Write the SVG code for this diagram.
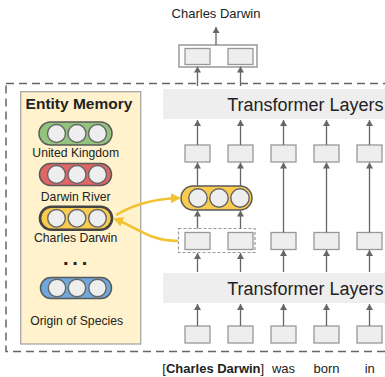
<svg xmlns="http://www.w3.org/2000/svg" width="385" height="377" viewBox="0 0 385 377">
<defs>
<style>
.t{font-family:"Liberation Sans",Arial,sans-serif;fill:#222}
.box{fill:#eeeeee;stroke:#999;stroke-width:1.3}
.band{fill:#eeeeee}
.arr{stroke:#666;stroke-width:1.3;fill:none;marker-end:url(#ah)}
.yarr{stroke:#f1c232;stroke-width:2.6;fill:none;marker-end:url(#yah)}
.pill{stroke:#595959;stroke-width:1.5}
.c{fill:#eeeeee;stroke:#666;stroke-width:1.4}
</style>
<marker id="ah" viewBox="0 0 6 7" refX="6" refY="3.5" markerWidth="6" markerHeight="7" markerUnits="userSpaceOnUse" orient="auto">
<path d="M0,0 L6,3.5 L0,7 Z" fill="#666"/>
</marker>
<marker id="yah" viewBox="0 0 10 10" refX="8" refY="5" markerWidth="10" markerHeight="10" markerUnits="userSpaceOnUse" orient="auto">
<path d="M0,0 L10,5 L0,10 Z" fill="#f1c232"/>
</marker>
</defs>
<rect width="385" height="377" fill="#ffffff"/>

<g id="outer-frame">
<rect x="6" y="83.5" width="400" height="268" fill="none" stroke="#666" stroke-width="1.5" stroke-dasharray="8 5"/>
</g>

<g id="title">
<text class="t" x="216" y="18" font-size="13" text-anchor="middle">Charles Darwin</text>
</g>

<g id="output-box">
<rect x="179" y="45" width="78" height="22" fill="#fff" stroke="#999" stroke-width="1.5"/>
<rect class="box" x="185" y="48.5" width="25" height="16"/>
<rect class="box" x="228" y="48.5" width="25" height="16"/>
</g>

<g id="transformer-top">
<rect class="band" x="163" y="89" width="230" height="30"/>
<text class="t" x="383.5" y="111" font-size="18" text-anchor="end">Transformer Layers</text>
</g>

<g id="transformer-bottom">
<rect class="band" x="163" y="273" width="230" height="30"/>
<text class="t" x="383.5" y="295" font-size="18" text-anchor="end">Transformer Layers</text>
</g>

<g id="entity-memory">
<rect x="20.7" y="91.7" width="120" height="252.3" fill="#fff2cc" stroke="#a6a6a6" stroke-width="1.3"/>
<text class="t" x="79" y="109" font-size="15.5" font-weight="bold" text-anchor="middle">Entity Memory</text>
</g>

<g id="entity-united-kingdom">
<rect class="pill" x="39" y="122" width="73" height="23" rx="11.5" fill="#93c47d"/>
<circle class="c" cx="56.5" cy="133.5" r="9"/>
<circle class="c" cx="77" cy="133.5" r="9"/>
<circle class="c" cx="97.5" cy="133.5" r="9"/>
<text class="t" x="75.7" y="156.5" font-size="12.2" text-anchor="middle">United Kingdom</text>
</g>

<g id="entity-darwin-river">
<rect class="pill" x="39.5" y="163.5" width="72" height="22" rx="11" fill="#e06666"/>
<circle class="c" cx="56.5" cy="174.5" r="9"/>
<circle class="c" cx="77" cy="174.5" r="9"/>
<circle class="c" cx="97.5" cy="174.5" r="9"/>
<text class="t" x="75.7" y="200.5" font-size="12.2" text-anchor="middle">Darwin River</text>
</g>

<g id="entity-charles-darwin">
<rect x="40" y="206.8" width="72" height="23" rx="11.5" fill="#f9cb4f" stroke="#444" stroke-width="2.6"/>
<circle class="c" cx="56.5" cy="218.3" r="8.8"/>
<circle class="c" cx="77" cy="218.3" r="8.8"/>
<circle class="c" cx="97.5" cy="218.3" r="8.8"/>
<text class="t" x="75.7" y="242" font-size="12.2" text-anchor="middle">Charles Darwin</text>
</g>

<g id="ellipsis">
<text class="t" x="77" y="265" font-size="20" font-weight="bold" text-anchor="middle" letter-spacing="3.8">...</text>
</g>

<g id="entity-origin-of-species">
<rect class="pill" x="40.5" y="277.5" width="71" height="21" rx="10.5" fill="#6fa8dc"/>
<circle class="c" cx="57" cy="288" r="8.7"/>
<circle class="c" cx="77" cy="288" r="8.7"/>
<circle class="c" cx="97.5" cy="288" r="8.7"/>
<text class="t" x="76.7" y="325" font-size="12.2" text-anchor="middle">Origin of Species</text>
</g>

<g id="retrieved-entity">
<rect class="pill" x="181" y="186" width="71" height="24" rx="12" fill="#f9cb4f"/>
<circle class="c" cx="198" cy="198" r="9.2"/>
<circle class="c" cx="219" cy="198" r="9.2"/>
<circle class="c" cx="240" cy="198" r="9.2"/>
</g>

<g id="top-row">
<rect class="box" x="185" y="145" width="25" height="17"/>
<rect class="box" x="228" y="145" width="25" height="17"/>
<rect class="box" x="271" y="145" width="25" height="17"/>
<rect class="box" x="314" y="145" width="25" height="17"/>
<rect class="box" x="357" y="145" width="25" height="17"/>
</g>

<g id="mention-row">
<rect x="178.5" y="228.5" width="76.5" height="24" fill="none" stroke="#999" stroke-width="1.2" stroke-dasharray="3 2"/>
<rect class="box" x="185" y="232.5" width="25" height="17"/>
<rect class="box" x="228" y="232.5" width="25" height="17"/>
<rect class="box" x="271" y="232.5" width="25" height="17"/>
<rect class="box" x="314" y="232.5" width="25" height="17"/>
<rect class="box" x="357" y="232.5" width="25" height="17"/>
</g>

<g id="input-row">
<rect class="box" x="185" y="326" width="25" height="17"/>
<rect class="box" x="228" y="326" width="25" height="17"/>
<rect class="box" x="271" y="326" width="25" height="17"/>
<rect class="box" x="314" y="326" width="25" height="17"/>
<rect class="box" x="357" y="326" width="25" height="17"/>
</g>

<g id="input-words">
<text class="t" x="162.3" y="373" font-size="13">[<tspan font-weight="bold">Charles Darwin</tspan>]</text>
<text class="t" x="283.5" y="373" font-size="13" text-anchor="middle">was</text>
<text class="t" x="326.5" y="373" font-size="13" text-anchor="middle">born</text>
<text class="t" x="369.7" y="373" font-size="13" text-anchor="middle">in</text>
</g>

<g id="connectors">
<path class="arr" d="M216,45 V27"/>
<path class="arr" d="M197.5,86 V66.5"/>
<path class="arr" d="M240.5,86 V66.5"/>
<path class="arr" d="M197.5,145 V120"/>
<path class="arr" d="M240.5,145 V120"/>
<path class="arr" d="M283.5,145 V120"/>
<path class="arr" d="M326.5,145 V120"/>
<path class="arr" d="M369.5,145 V120"/>
<path class="arr" d="M197.5,186 V162.5"/>
<path class="arr" d="M240.5,186 V162.5"/>
<path class="arr" d="M197.5,228.5 V210.5"/>
<path class="arr" d="M240.5,228.5 V210.5"/>
<path class="arr" d="M283.5,232.5 V162.5"/>
<path class="arr" d="M326.5,232.5 V162.5"/>
<path class="arr" d="M369.5,232.5 V162.5"/>
<path class="arr" d="M197.5,272 V253"/>
<path class="arr" d="M240.5,272 V253"/>
<path class="arr" d="M283.5,272 V250"/>
<path class="arr" d="M326.5,272 V250"/>
<path class="arr" d="M369.5,272 V250"/>
<path class="arr" d="M197.5,326 V304"/>
<path class="arr" d="M240.5,326 V304"/>
<path class="arr" d="M283.5,326 V304"/>
<path class="arr" d="M326.5,326 V304"/>
<path class="arr" d="M369.5,326 V304"/>
<path class="yarr" d="M116,215 Q143,199 179,198"/>
<path class="yarr" d="M178,241 C150,241 140,229 115,219"/>
</g>
</svg>
